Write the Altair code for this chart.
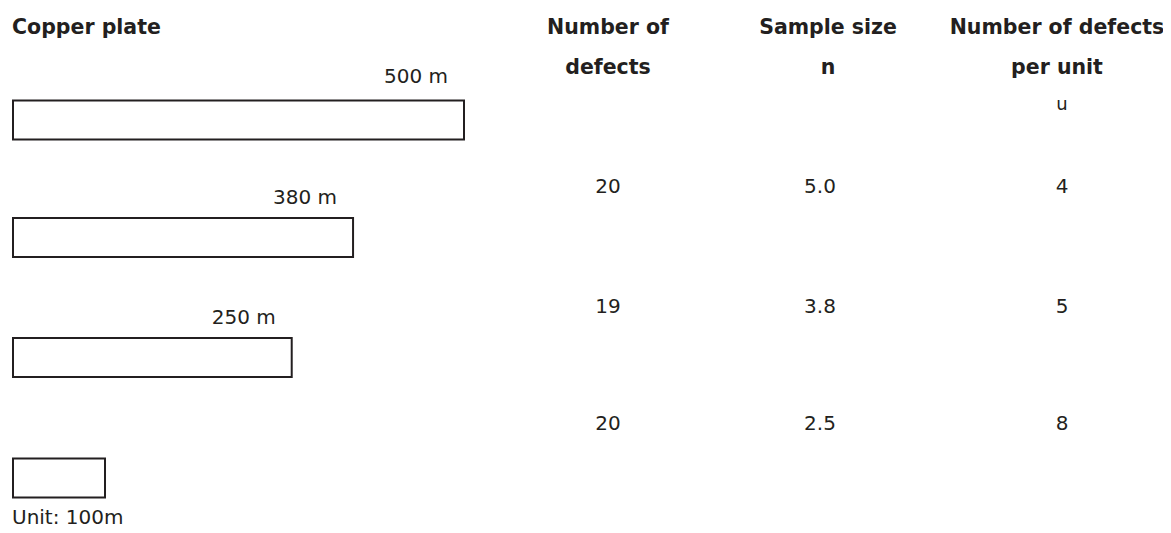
import altair as alt
import pandas as pd

# ---- data ----
plate_labels = ["500 m", "380 m", "250 m"]
box_lengths = [500, 377, 309, 102]        # drawn outline length of each plate (m); last one is the unit box
defects = ["20", "19", "20"]
sample_size = ["5.0", "3.8", "2.5"]
per_unit = ["4", "5", "8"]
header_line1 = ["Number of", "Sample size", "Number of defects"]
header_line2 = ["defects", "n", "per unit"]
title_text = "Copper plate"
unit_symbol = "u"
unit_note = "Unit: 100m"

# ---- layout (chart pixel space) ----
W, H = 1155, 525
head_x = [600, 820, 1049]
col_x = [600, 812, 1054]
header_y = [20, 60]
symbol_y = 97
box_y = [112, 229.5, 349.5, 470]
box_half = 19.5
label_y = [69, 190, 310]
value_y = [179, 299, 416]
INK = "#231f20"
FONT = "DejaVu Sans"
BOLD_SIZE = 20.5
TEXT_SIZE = 20

box_scale = alt.Scale(domain=[0, 500], range=[5, 456])
lx = alt.Scale(domain=[0, W], range=[0, W])
ly = alt.Scale(domain=[0, H], range=[0, H])

boxes = pd.DataFrame({
    "start": [0] * len(box_lengths),
    "length": box_lengths,
    "y0": [y - box_half for y in box_y],
    "y1": [y + box_half for y in box_y],
})
labels = pd.DataFrame({
    "length": box_lengths[:3],
    "label": plate_labels,
    "y": label_y,
})

title_df = pd.DataFrame({"t": [title_text], "x": [4], "y": [header_y[0]]})
head_rows = []
for i in range(3):
    head_rows.append({"t": header_line1[i], "x": head_x[i], "y": header_y[0]})
    head_rows.append({"t": header_line2[i], "x": head_x[i], "y": header_y[1]})
head_df = pd.DataFrame(head_rows)

val_rows = []
for r in range(3):
    for c, arr in enumerate([defects, sample_size, per_unit]):
        val_rows.append({"t": arr[r], "x": col_x[c], "y": value_y[r]})
val_df = pd.DataFrame(val_rows)

X = lambda f: alt.X(f, scale=lx, axis=None)
Y = lambda f: alt.Y(f, scale=ly, axis=None)

box_layer = alt.Chart(boxes).mark_rect(fill="white", stroke=INK, strokeWidth=2).encode(
    x=alt.X("start:Q", scale=box_scale, axis=None),
    x2="length:Q",
    y=Y("y0:Q"),
    y2="y1:Q",
)

label_layer = alt.Chart(labels).mark_text(
    align="right", baseline="middle", dx=-16, font=FONT, fontSize=TEXT_SIZE, color=INK
).encode(
    x=alt.X("length:Q", scale=box_scale, axis=None),
    y=Y("y:Q"),
    text="label:N",
)

title_layer = alt.Chart(title_df).mark_text(
    align="left", baseline="middle", font=FONT, fontSize=BOLD_SIZE, fontWeight="bold", color=INK
).encode(x=X("x:Q"), y=Y("y:Q"), text="t:N")

head_layer = alt.Chart(head_df).mark_text(
    align="center", baseline="middle", font=FONT, fontSize=BOLD_SIZE, fontWeight="bold", color=INK
).encode(x=X("x:Q"), y=Y("y:Q"), text="t:N")

values_layer = alt.Chart(val_df).mark_text(
    align="center", baseline="middle", font=FONT, fontSize=TEXT_SIZE, color=INK
).encode(x=X("x:Q"), y=Y("y:Q"), text="t:N")

sym_df = pd.DataFrame({"t": [unit_symbol], "x": [col_x[2]], "y": [symbol_y]})
sym_layer = alt.Chart(sym_df).mark_text(
    align="center", baseline="middle", font=FONT, fontSize=18, color=INK
).encode(x=X("x:Q"), y=Y("y:Q"), text="t:N")

note_df = pd.DataFrame({"t": [unit_note], "x": [4], "y": [510]})
note_layer = alt.Chart(note_df).mark_text(
    align="left", baseline="middle", font=FONT, fontSize=TEXT_SIZE, color=INK
).encode(x=X("x:Q"), y=Y("y:Q"), text="t:N")

chart = alt.layer(
    box_layer, label_layer, title_layer, head_layer, values_layer, sym_layer, note_layer
).resolve_scale(x="independent").properties(
    width=W, height=H, padding=0,
    autosize=alt.AutoSizeParams(type="none"),
    background="white",
).configure_view(stroke=None)

chart.save("out.html", embed_options={"renderer": "svg", "actions": False})
